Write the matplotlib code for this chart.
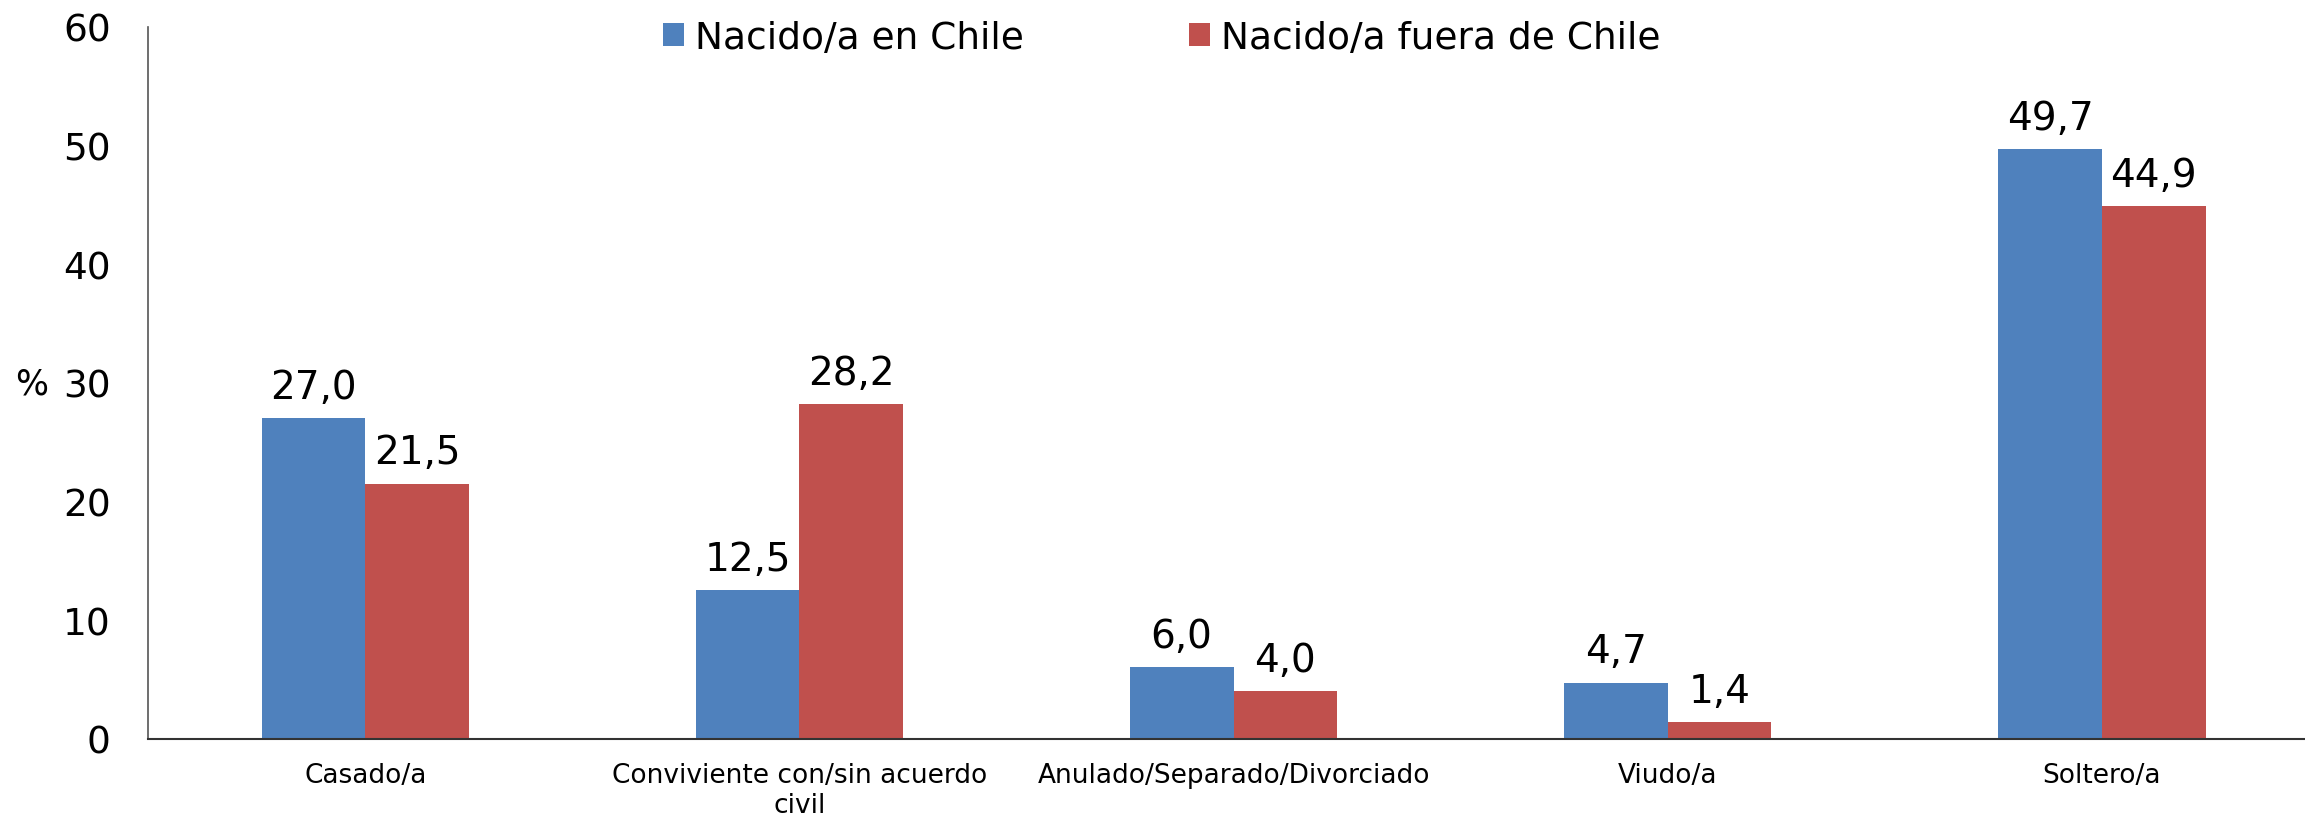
import matplotlib.pyplot as plt
import numpy as np

categorias = ['Casado/a', 'Conviviente con/sin acuerdo\ncivil', 'Anulado/Separado/Divorciado',
              'Viudo/a', 'Soltero/a']
nacido_chile = [27.0, 12.5, 6.0, 4.7, 49.7]
nacido_fuera = [21.5, 28.2, 4.0, 1.4, 44.9]
series = ['Nacido/a en Chile', 'Nacido/a fuera de Chile']

azul = '#4F81BD'
rojo = '#C0504D'

fig = plt.figure(figsize=(23.05, 8.2), dpi=100)
ax = fig.add_axes([0.0643, 0.098, 0.9357, 0.868])

x = np.arange(len(categorias))
w = 0.239
b1 = ax.bar(x - w / 2, nacido_chile, w, color=azul, label=series[0])
b2 = ax.bar(x + w / 2, nacido_fuera, w, color=rojo, label=series[1])

for bars in (b1, b2):
    for r in bars:
        h = r.get_height()
        ax.annotate(f'{h:.1f}'.replace('.', ','), (r.get_x() + r.get_width() / 2, h),
                    xytext=(0, 9), textcoords='offset points',
                    ha='center', va='bottom', fontsize=28)

ax.set_xlim(-0.5, 4.468)
ax.set_ylim(0, 60)
ax.set_yticks(range(0, 61, 10))
ax.set_xticks(x)
ax.set_xticklabels(categorias, fontsize=19, linespacing=1.2)
ax.tick_params(axis='x', length=0, pad=17)
ax.tick_params(axis='y', length=0, pad=27, labelsize=27)

for s in ('top', 'right'):
    ax.spines[s].set_visible(False)
ax.spines['left'].set_color('#555555')
ax.spines['bottom'].set_color('#333333')
ax.spines['left'].set_linewidth(1.2)
ax.spines['bottom'].set_linewidth(1.5)

fig.text(0.0139, 1 - 385 / 820, '%', fontsize=25, ha='center', va='center')

ax.legend(loc='center', bbox_to_anchor=(0.504, 0.953), bbox_transform=fig.transFigure,
          ncol=2, frameon=False, fontsize=27, handlelength=0.55, handleheight=0.55,
          handletextpad=0.3, columnspacing=4.4)

fig.savefig('out.png', dpi=100)
